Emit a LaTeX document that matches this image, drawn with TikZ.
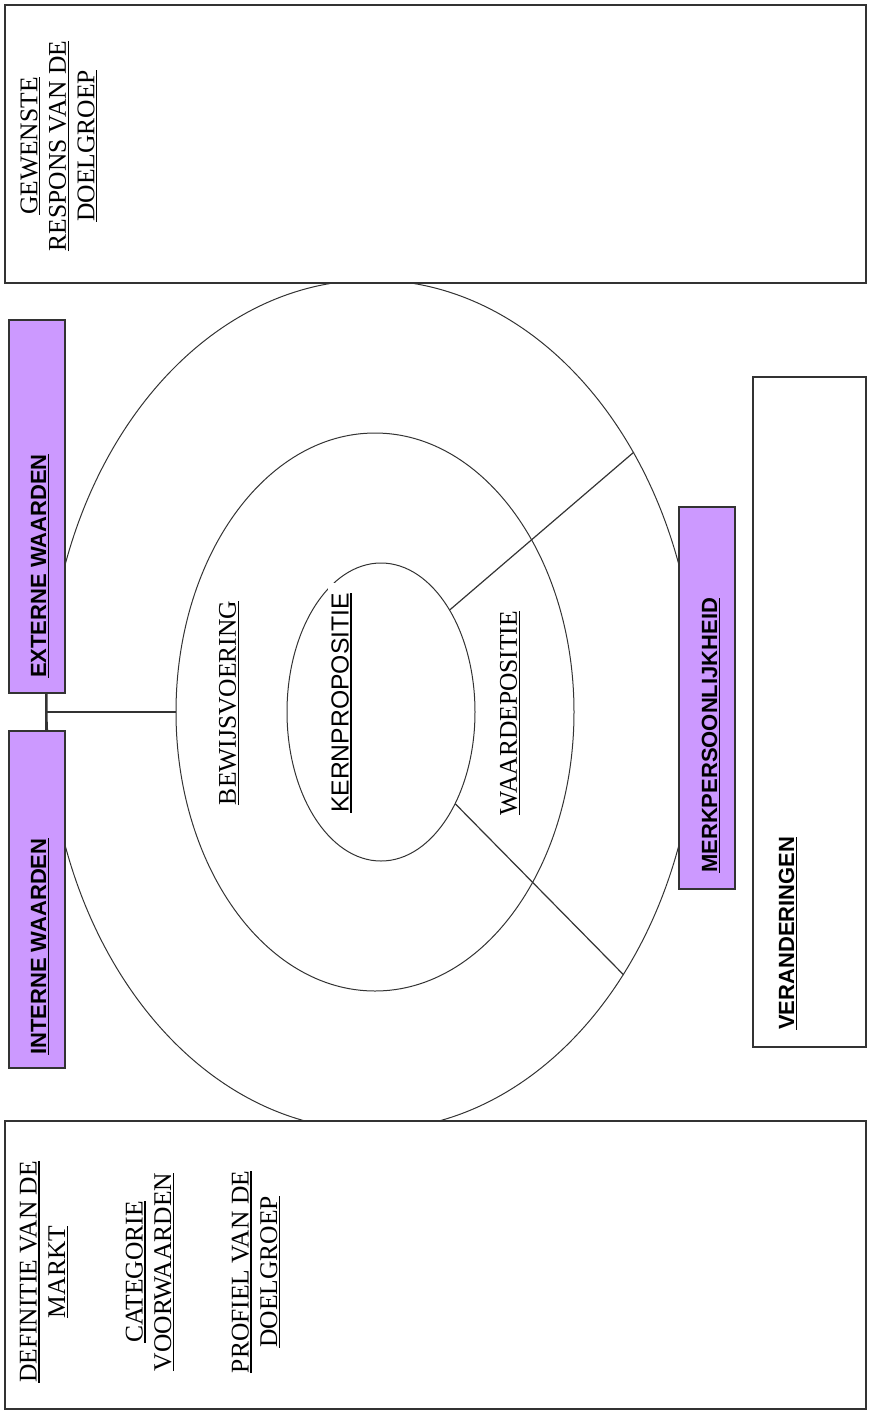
\documentclass[tikz,border=0pt]{standalone}
\usepackage{fontspec}
\setmainfont{Liberation Serif}
\setsansfont{Liberation Sans}
\usetikzlibrary{shapes.geometric}
\definecolor{lila}{RGB}{204,153,255}
\definecolor{lijn}{RGB}{51,51,51}
\newcommand{\onder}[1]{\setbox0\hbox{#1}\rlap{\rule[-3pt]{\wd0}{1.4pt}}\box0}
\tikzstyle{kader}=[draw=lijn, fill=white, line width=1.5pt, inner sep=0pt]
\tikzstyle{paars}=[draw=lijn, fill=lila, line width=1.5pt, inner sep=0pt]
\tikzstyle{ring}=[ellipse, draw=lijn, line width=1pt, inner sep=0pt]
\tikzstyle{lijntje}=[draw=lijn, line width=1.2pt]
\tikzstyle{schreef}=[font=\fontsize{25.5}{28.5}\selectfont, rotate=90, align=center, inner sep=0pt]
\tikzstyle{schreefloos}=[font=\sffamily\bfseries\fontsize{22}{26}\selectfont, rotate=90, inner sep=0pt]
\begin{document}
\begin{tikzpicture}[x=1pt, y=-1pt]
    \useasboundingbox (0,0) rectangle (877,1414);

    % de drie ringen
    \node[ring, minimum width=650pt, minimum height=850pt] (buiten) at (372,705) {};
    \node[ring, minimum width=398pt, minimum height=558pt] (midden) at (375,712) {};
    \node[ring, minimum width=188pt, minimum height=298pt] (kern) at (381,712) {};
    \draw[lijntje] (kern.56) -- (buiten.44);
    \draw[lijntje] (kern.-51) -- (buiten.-47);

    % kaders
    \node[kader, minimum width=861pt, minimum height=278pt] (respons) at (435.5,144) {};
    \node[kader, minimum width=861pt, minimum height=288pt] (markt) at (435.5,1265) {};
    \node[kader, minimum width=113pt, minimum height=670pt] (veranderingen) at (809.5,712) {};
    \node[paars, minimum width=56pt, minimum height=373pt] (extern) at (37,506.5) {};
    \node[paars, minimum width=56pt, minimum height=337pt] (intern) at (37,899.5) {};
    \node[paars, minimum width=56pt, minimum height=382pt] (merk) at (707,698) {};

    \coordinate (knik) at (46,712);
    \draw[lijntje] (extern.south -| knik) -- (intern.north -| knik);
    \draw[lijntje] (knik) -- (midden.west);

    % teksten
    \node[schreef] (gewenst) at (59,146) {\onder{GEWENSTE}\\\onder{RESPONS VAN DE}\\\onder{DOELGROEP}};
    \node[schreef] (definitie) at (44,1272) {\onder{DEFINITIE VAN DE}\\\onder{MARKT}};
    \node[schreef] (categorie) at (150,1272) {\onder{CATEGORIE}\\\onder{VOORWAARDEN}};
    \node[schreef] (profiel) at (256,1272) {\onder{PROFIEL VAN DE}\\\onder{DOELGROEP}};
    \node[schreef] (bewijs) at (229,703) {\onder{BEWIJSVOERING}};
    \node[schreef] (waarde) at (510,713) {\onder{WAARDEPOSITIE}};
    \node[schreef, font=\sffamily\fontsize{24.7}{28}\selectfont, fill=white, inner xsep=10pt, inner ysep=3pt] (kernprop) at (341.5,703) {\onder{KERNPROPOSITIE}};
    \node[schreefloos, anchor=west] (externtxt) at (40,678) {\onder{EXTERNE WAARDEN}};
    \node[schreefloos, anchor=west] (interntxt) at (40,1055) {\onder{INTERNE WAARDEN}};
    \node[schreefloos, anchor=west] (merktxt) at (711,873) {\onder{MERKPERSOONLIJKHEID}};
    \node[schreefloos, anchor=west] (verandtxt) at (788,1030) {\onder{VERANDERINGEN}};
\end{tikzpicture}
\end{document}
